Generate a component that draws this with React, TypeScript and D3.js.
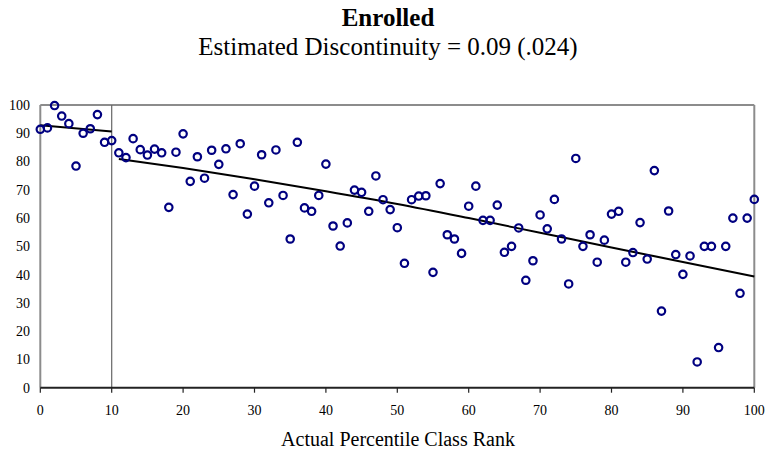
import React from 'react';
import * as d3 from 'd3';

// class rank percentile 0..100, share enrolled per bin
const enrolled = [
  91.4, 91.9, 99.8, 96.1, 93.4, 78.4, 90.0, 91.6, 96.6, 86.8,
  87.4, 83.1, 81.4, 88.1, 84.2, 82.3, 84.4, 83.1, 63.8, 83.3,
  89.8, 73.0, 81.7, 74.1, 84.0, 79.0, 84.5, 68.3, 86.3, 61.4,
  71.3, 82.4, 65.4, 84.1, 68.0, 52.6, 86.8, 63.6, 62.4, 68.0,
  79.1, 57.2, 50.1, 58.3, 69.9, 69.1, 62.4, 74.9, 66.5, 63.0,
  56.6, 44.0, 66.5, 67.8, 67.9, 40.8, 72.2, 54.1, 52.6, 47.5,
  64.2, 71.3, 59.2, 59.2, 64.6, 47.9, 50.0, 56.5, 38.0, 44.9,
  61.1, 56.2, 66.6, 52.6, 36.7, 81.1, 50.0, 54.1, 44.4, 52.2,
  61.4, 62.4, 44.4, 47.8, 58.4, 45.5, 76.8, 27.1, 62.5, 47.1,
  40.1, 46.6, 9.1, 50.0, 50.0, 14.2, 50.0, 60.0, 33.4, 60.0,
  66.6,
];

// fitted lines either side of the cutoff at 10
const fitLeftX = [0, 10];
const fitLeftY = [92.8, 90.6];
const fitRightX = [11, 20, 30, 40, 50, 60, 70, 80, 90, 100];
const fitRightY = [80.9, 77.7, 73.7, 69.5, 65.0, 60.0, 54.8, 49.6, 44.5, 39.3];

const xTicks = [0, 10, 20, 30, 40, 50, 60, 70, 80, 90, 100];
const yTicks = [0, 10, 20, 30, 40, 50, 60, 70, 80, 90, 100];
const cutoff = 10;

const W = 765;
const H = 455;
const font = '"Liberation Serif", "Times New Roman", serif';

export default function App() {
  const x = d3.scaleLinear().domain([0, 100]).range([40.3, 754.3]);
  const y = d3.scaleLinear().domain([0, 100]).range([387.7, 105]);

  const line = d3.line<[number, number]>()
    .curve(d3.curveMonotoneX)
    .x(d => x(d[0]))
    .y(d => y(d[1]));

  const left = fitLeftX.map((v, i) => [v, fitLeftY[i]] as [number, number]);
  const right = fitRightX.map((v, i) => [v, fitRightY[i]] as [number, number]);
  const [x0, x1] = x.range();
  const [yb, yt] = y.range();

  return (
    <div style={{ position: 'fixed', left: 0, top: 0 }}>
      <svg width={W} height={H} style={{ display: 'block', background: '#fff' }} fontFamily={font}>
        <text x={388} y={26} textAnchor="middle" fontSize={25} fontWeight="bold">Enrolled</text>
        <text x={388} y={55} textAnchor="middle" fontSize={25}>Estimated Discontinuity = 0.09 (.024)</text>

        {/* frame */}
        <line x1={x0} x2={x1} y1={yt} y2={yt} stroke="#8c8c8c" strokeWidth={2} />
        <line x1={x1} x2={x1} y1={yt} y2={yb} stroke="#8c8c8c" strokeWidth={2} />
        <line x1={x0} x2={x0} y1={yt} y2={yb} stroke="#8c8c8c" strokeWidth={2} />
        <line x1={x(cutoff)} x2={x(cutoff)} y1={yt} y2={yb} stroke="#666" strokeWidth={1.2} />

        {yTicks.map(t => (
          <text key={t} x={30} y={y(t)} dy="0.35em" textAnchor="end" fontSize={14}>{t}</text>
        ))}

        {/* x axis */}
        <line x1={x0} x2={x1} y1={yb} y2={yb} stroke="#222" strokeWidth={2} />
        {xTicks.map(t => (
          <g key={t}>
            <line x1={x(t)} x2={x(t)} y1={yb} y2={yb + 5} stroke="#222" strokeWidth={1.2} />
            <text x={x(t)} y={415} textAnchor="middle" fontSize={14}>{t}</text>
          </g>
        ))}
        <text x={398} y={446} textAnchor="middle" fontSize={20}>Actual Percentile Class Rank</text>

        <path d={line(left) || ''} fill="none" stroke="#000" strokeWidth={2} />
        <path d={line(right) || ''} fill="none" stroke="#000" strokeWidth={2} />

        {enrolled.map((v, i) => (
          <circle key={i} cx={x(i)} cy={y(v)} r={3.7} fill="none" stroke="#000080" strokeWidth={2.2} />
        ))}
      </svg>
    </div>
  );
}
